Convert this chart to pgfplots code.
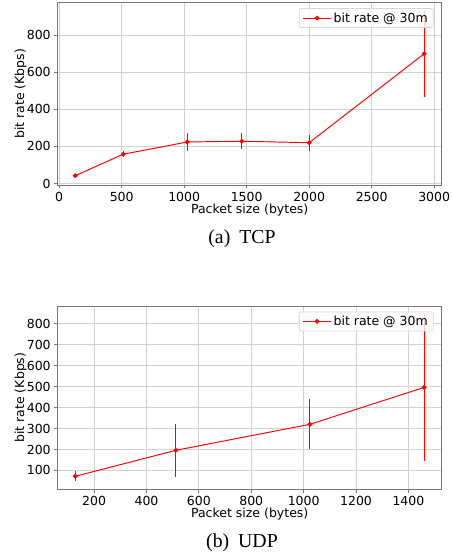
\documentclass[border=0pt]{standalone}
\usepackage{fontspec}
\setmainfont{DejaVu Sans}
\newfontfamily\capfont{Liberation Serif}
\usepackage{pgfplots}
\pgfplotsset{compat=1.18}
\definecolor{framec}{RGB}{120,120,120}
\definecolor{gridc}{RGB}{210,210,210}
\definecolor{legc}{RGB}{215,215,215}
\pgfplotsset{
 myax/.style={
  scale only axis,
  width=384pt,
  axis line style={framec, line width=0.9pt},
  grid=major,
  grid style={gridc, line width=0.8pt},
  tick align=outside,
  xtick pos=bottom, ytick pos=left,
  tick style={framec, line width=0.8pt},
  major tick length=3.5pt,
  tick label style={font=\fontsize{12.5}{14}\selectfont},
  /pgf/number format/assume math mode=true,
  /pgf/number format/1000 sep={},
  xlabel={Packet size (bytes)},
  ylabel={bit rate (Kbps)},
  unbounded coords=jump,
  legend style={font=\fontsize{12.5}{14}\selectfont, draw=legc, line width=0.8pt, rounded corners=2pt,
    fill=white, fill opacity=0.8, text opacity=1, draw opacity=1,
    at={(1,1)}, anchor=north east, xshift=-8pt, yshift=-5.5pt, inner xsep=3.5pt, inner ysep=2pt},
  legend cell align=left,
  legend image code/.code={\draw[mark repeat=2, mark phase=2, #1] plot coordinates {(0pt,0pt) (14pt,0pt) (28pt,0pt)};},
 },
 myline/.style={draw=red, color=red, line width=0.95pt, mark=*, mark size=1.9pt, mark options={solid, fill=red, draw=red}},
 myerr/.style={forget plot, draw=red, line width=0.95pt, mark=none},
}
\begin{document}
\begin{tikzpicture}
\path[use as bounding box] (0pt,0pt) rectangle (451pt,555pt);
\begin{axis}[myax, at={(57.7pt,370pt)}, anchor=south west, height=182.3pt,
  xmin=-12, xmax=3060, ymin=-8, ymax=975,
  xlabel style={font=\fontsize{12.5}{14}\selectfont, at={(axis description cs:0.5,-0.137)}, anchor=center},
  ylabel style={font=\fontsize{12.5}{14}\selectfont, at={(axis description cs:-0.0964,0.5)}, anchor=center},
  xtick={0,500,1000,1500,2000,2500,3000}, ytick={0,200,400,600,800}]
% error bars (value - err, value + err)
\addplot[myerr] coordinates {(128,37) (128,47) (128,nan)
 (512,141) (512,175) (512,nan)
 (1024,178) (1024,270) (1024,nan)
 (1460,185) (1460,271) (1460,nan)
 (2000,178) (2000,262) (2000,nan)
 (2920,469) (2920,931)};
\addplot[myline] coordinates {(128,42) (512,158) (1024,224) (1460,228) (2000,220) (2920,700)};
\addlegendentry{bit rate @ 30m}
\end{axis}
\node[font=\capfont\fontsize{19.8}{24}\selectfont, anchor=base] at (242pt,311.5pt) {(a)\hspace{0.45em}TCP};
\begin{axis}[myax, at={(57.7pt,65.7pt)}, anchor=south west, height=183.3pt,
  xmin=61, xmax=1527, ymin=10, ymax=884,
  xlabel style={font=\fontsize{12.5}{14}\selectfont, at={(axis description cs:0.5,-0.135)}, anchor=center},
  ylabel style={font=\fontsize{12.5}{14}\selectfont, at={(axis description cs:-0.0964,0.5)}, anchor=center},
  xtick={200,400,600,800,1000,1200,1400}, ytick={100,200,300,400,500,600,700,800}]
\addplot[myerr] coordinates {(128,48) (128,96) (128,nan)
 (512,71) (512,321) (512,nan)
 (1024,200) (1024,440) (1024,nan)
 (1460,146) (1460,846)};
\addplot[myline] coordinates {(128,72) (512,196) (1024,320) (1460,496)};
\addlegendentry{bit rate @ 30m}
\end{axis}
\node[font=\capfont\fontsize{19.8}{24}\selectfont, anchor=base] at (242pt,8pt) {(b)\hspace{0.45em}UDP};
\end{tikzpicture}
\end{document}
